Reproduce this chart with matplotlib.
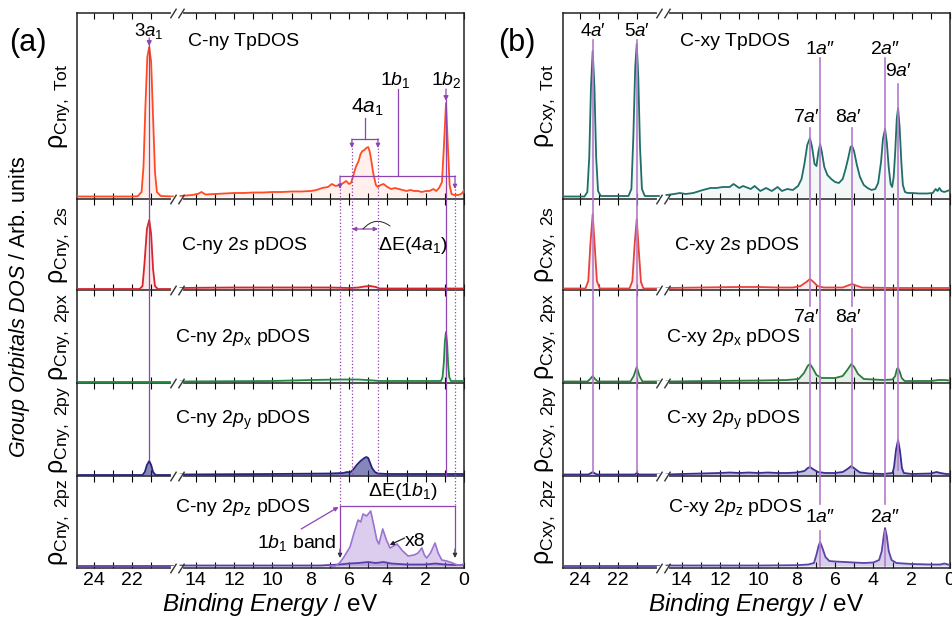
import numpy as np
import matplotlib
matplotlib.use('Agg')
import matplotlib.pyplot as plt
from matplotlib import transforms
from matplotlib.lines import Line2D
from matplotlib.patches import FancyArrowPatch

plt.rcParams['font.family'] = ['Liberation Sans', 'DejaVu Sans']
plt.rcParams['mathtext.fontset'] = 'custom'
plt.rcParams['mathtext.rm'] = 'Liberation Sans'
plt.rcParams['mathtext.it'] = 'Liberation Sans:italic'
plt.rcParams['mathtext.default'] = 'regular'

W, H = 952, 619
GAP = 4.67      # eV removed between the two axis segments
BRK = 15.0      # axis position of the break

major_E = [24, 22, 14, 12, 10, 8, 6, 4, 2, 0]
minor_E = [23, 21, 13, 11, 9, 7, 5, 3, 1]

# ---- C-ny (panel a), heights in arbitrary units ----
a_tot = [(24.93, 0.5), (22.0, 0.5), (21.7, 0.8), (21.5, 5), (21.4, 30), (21.3, 90), (21.2, 140), (21.1, 150),
         (21.0, 135), (20.9, 80), (20.8, 25), (20.7, 5), (20.5, 1), (19.86, 0.5),
         (14.8, 1), (14.5, 1.5), (14.2, 2), (13.9, 3), (13.7, 5), (13.5, 2.5), (13.0, 3), (12.5, 3.5), (12.0, 4),
         (11.5, 4), (11.0, 4.5), (10.5, 4.5), (10.0, 5), (9.5, 5), (9.0, 5.5), (8.5, 5.5), (8.0, 6), (7.7, 7),
         (7.4, 9), (7.1, 10), (6.9, 13), (6.7, 11), (6.5, 12), (6.3, 14), (6.15, 16), (6.0, 13), (5.9, 14),
         (5.8, 20), (5.65, 30), (5.5, 36), (5.4, 43), (5.3, 46), (5.2, 47), (5.1, 49), (5.0, 50), (4.93, 46),
         (4.85, 38), (4.75, 25), (4.6, 12), (4.5, 10), (4.35, 12), (4.2, 13), (4.0, 10), (3.8, 8), (3.6, 9),
         (3.4, 8), (3.2, 7), (3.0, 6), (2.8, 7), (2.6, 6), (2.4, 6), (2.2, 5), (2.0, 6), (1.8, 6), (1.6, 8),
         (1.45, 6), (1.3, 9), (1.15, 15), (1.05, 50), (0.94, 94), (0.84, 50), (0.75, 12), (0.65, 3), (0.5, 2),
         (0.3, 2), (0.15, 3), (0.05, 5), (0.0, 7)]
a_2s = [(24.93, 0), (21.6, 0), (21.45, 3), (21.35, 25), (21.22, 60), (21.1, 69), (21.0, 55), (20.9, 20),
        (20.8, 3), (20.65, 0), (19.86, 0),
        (14.8, 1), (14, 1.2), (12, 1.5), (10, 1.5), (8, 1.5), (7, 1.5), (6, 1), (5.5, 1.5), (5.2, 2.5),
        (4.9, 3), (4.6, 2), (4.4, 0.5), (2, 0.5), (0, 0.5)]
a_2px = [(24.93, 0.5), (19.86, 0.5), (14.8, 0.5), (10, 1), (8, 2), (6.5, 2.5), (5.5, 2.5), (4.7, 1.5),
         (4.4, 1), (2, 1), (1.2, 1), (1.12, 5), (1.05, 20), (1.0, 40), (0.94, 50), (0.88, 38), (0.83, 18),
         (0.77, 5), (0.68, 1), (0, 1)]
a_2py = [(24.93, 0), (21.45, 0), (21.33, 3), (21.22, 10), (21.1, 14), (21.0, 10), (20.9, 3), (20.77, 0),
         (19.86, 0),
         (14.8, 0.5), (10, 1), (7, 1.5), (6.3, 2), (6.1, 3), (5.95, 2.5), (5.8, 5), (5.6, 10), (5.4, 14),
         (5.2, 17), (5.1, 18), (5.0, 17), (4.9, 12), (4.8, 7), (4.65, 3), (4.5, 1.5), (4.0, 1), (2, 1), (0, 1)]
a_2pz = [(24.93, 0.5), (19.86, 0.5), (14.8, 0.5), (7.5, 0.5), (7, 1), (6.5, 1.5), (6, 2.5), (5.5, 3),
         (5.0, 4), (4.6, 3), (4.2, 4), (3.8, 2.5), (3.0, 1.5), (2.0, 1.5), (1.5, 2.5), (1.0, 1.5), (0.5, 1),
         (0, 1)]
a_2pz_x8 = [(7.0, 0), (6.73, 0), (6.5, 3), (6.3, 8), (5.95, 19), (5.74, 33), (5.53, 46), (5.39, 44),
            (5.27, 52), (5.08, 50), (4.87, 55), (4.7, 40), (4.55, 26), (4.44, 22), (4.24, 37), (4.05, 26),
            (3.86, 18), (3.68, 20), (3.5, 22), (3.2, 15), (2.92, 10), (2.6, 11), (2.4, 13), (2.2, 18),
            (2.07, 11), (1.95, 8), (1.75, 13), (1.51, 23), (1.35, 13), (1.16, 6), (0.9, 5), (0.6, 3),
            (0.35, 1), (0.1, 1), (0.0, 3)]

# ---- C-xy (panel b) ----
b_tot = [(24.9, 0.5), (23.75, 0.5), (23.6, 5), (23.5, 40), (23.41, 110), (23.32, 146), (23.23, 110),
         (23.14, 40), (23.04, 6), (22.9, 1), (21.45, 1), (21.3, 8), (21.2, 60), (21.1, 130), (21.02, 153),
         (20.94, 120), (20.85, 50), (20.75, 8), (20.6, 1), (19.86, 1),
         (14.8, 2), (14.4, 3), (14.1, 4), (13.8, 3), (13.4, 4), (12.9, 7), (12.5, 9), (12.2, 9), (11.85, 10),
         (11.5, 10), (11.3, 13), (11.0, 9), (10.8, 11), (10.4, 8), (10.2, 11), (9.9, 6), (9.6, 9), (9.3, 6),
         (9.0, 10), (8.77, 6), (8.5, 8), (8.2, 7), (7.93, 11), (7.75, 18), (7.6, 33), (7.45, 52), (7.31, 59),
         (7.2, 50), (7.07, 33), (6.97, 31), (6.87, 45), (6.78, 53), (6.69, 45), (6.56, 30), (6.4, 22),
         (6.2, 18), (6.0, 15), (5.8, 14), (5.6, 18), (5.45, 28), (5.3, 40), (5.19, 50), (5.11, 51),
         (5.01, 46), (4.86, 32), (4.7, 20), (4.5, 12), (4.3, 9), (4.1, 7), (3.9, 8), (3.75, 14), (3.6, 35),
         (3.5, 58), (3.39, 68), (3.3, 55), (3.2, 30), (3.1, 13), (3.02, 10), (2.94, 20), (2.86, 45),
         (2.78, 78), (2.71, 89), (2.63, 70), (2.54, 35), (2.46, 12), (2.35, 5), (2.2, 4), (2.0, 4),
         (1.6, 3.5), (1.2, 3.5), (0.9, 4), (0.75, 8), (0.65, 6), (0.55, 9), (0.45, 6), (0.3, 5), (0.15, 6),
         (0.0, 7)]
b_2s = [(24.9, 0.5), (23.7, 0.5), (23.55, 8), (23.44, 45), (23.32, 75), (23.22, 45), (23.1, 8), (22.95, 0.5),
        (21.4, 0.5), (21.25, 8), (21.13, 45), (21.02, 70), (20.92, 40), (20.8, 7), (20.67, 0.5), (19.86, 0.5),
        (14.8, 1), (13, 1.5), (11, 2), (10, 2), (9, 1.5), (8.2, 1.5), (7.8, 3), (7.5, 7), (7.31, 10),
        (7.12, 7), (6.92, 3), (6.6, 1.5), (5.6, 1.5), (5.33, 3.5), (5.11, 5), (4.9, 3.5), (4.6, 1.5), (3, 1),
        (0, 1)]
b_2px = [(24.9, 0.5), (23.6, 0.5), (23.45, 3), (23.32, 6), (23.2, 3), (23.05, 0.5), (21.35, 0.5), (21.18, 6),
         (21.02, 15), (20.88, 6), (20.72, 0.5), (19.86, 0.5),
         (14.8, 0.5), (10, 1.5), (8.5, 2), (7.9, 3), (7.62, 9), (7.43, 16), (7.31, 18), (7.17, 14), (6.97, 7),
         (6.7, 4), (6.0, 4), (5.6, 6), (5.36, 12), (5.15, 18), (5.0, 15), (4.8, 8), (4.5, 3), (3.5, 2),
         (3.0, 2.5), (2.86, 6), (2.77, 13), (2.71, 14), (2.62, 10), (2.52, 4), (2.37, 1), (1.0, 1), (0.6, 2),
         (0.3, 2), (0, 1.5)]
b_2py = [(24.9, 0.5), (23.55, 0.5), (23.4, 2), (23.32, 3), (23.24, 2), (23.1, 0.5), (21.13, 0.5), (21.02, 2),
         (20.9, 0.5), (19.86, 0.5),
         (14.8, 0.5), (14, 1), (13, 1.5), (12, 2), (11.5, 2.5), (11, 2), (10.5, 2.5), (10, 2), (9.5, 2.5),
         (9, 2), (8.5, 2), (8, 2.5), (7.6, 4), (7.42, 7), (7.31, 8), (7.16, 6), (6.9, 3), (6.5, 2), (6.0, 2),
         (5.6, 3), (5.35, 6), (5.15, 9), (4.95, 6), (4.7, 2.5), (4.2, 1.5), (3.5, 1), (3.0, 2), (2.92, 8),
         (2.82, 25), (2.71, 35), (2.61, 24), (2.51, 7), (2.41, 2), (2.0, 1), (1.0, 1.5), (0.7, 3), (0.5, 2),
         (0.2, 1), (0, 1)]
b_2pz = [(24.9, 0.5), (19.86, 0.5), (14.8, 0.5), (10, 0.5), (8, 0.8), (7.4, 1.5), (7.1, 3), (6.96, 12),
         (6.86, 20), (6.78, 24), (6.66, 18), (6.5, 9), (6.3, 5), (6.0, 4.5), (5.5, 4), (5.0, 3.5), (4.5, 3),
         (4.0, 3.5), (3.7, 6), (3.56, 15), (3.46, 30), (3.39, 38), (3.3, 30), (3.2, 15), (3.05, 6), (2.8, 3),
         (2.0, 2), (1.0, 1.5), (0.5, 1.5), (0.3, 2.5), (0.1, 1.5), (0, 1)]

# peak / band energies used by the annotations
pk_a = {'3a1': 21.1, '1b2': 0.94, '4a1': 5.17, '1b1': 3.47}
edges_4a1 = [5.85, 4.49]
edges_1b1 = [6.47, 0.47]
pk_b = {'4a': 23.32, '5a': 21.02, '7a': 7.31, '1a2': 6.78, '8a': 5.11, '2a2': 3.39, '9a': 2.71}

rho_a = [r'$ρ_{Cny,\ Tot}$', r'$ρ_{Cny,\ 2s}$', r'$ρ_{Cny,\ 2px}$', r'$ρ_{Cny,\ 2py}$', r'$ρ_{Cny,\ 2pz}$']
rho_b = [r'$ρ_{Cxy,\ Tot}$', r'$ρ_{Cxy,\ 2s}$', r'$ρ_{Cxy,\ 2px}$', r'$ρ_{Cxy,\ 2py}$', r'$ρ_{Cxy,\ 2pz}$']

col_a = ['#ff4a22', '#d8262c', '#1e8a3e', '#25237e', '#5b3ea6']
col_b = ['#1f6e68', '#e8423c', '#2a7d3c', '#3b2f92', '#5a43aa']
fill_a = [0.08, 0.1, 0.1, 0.55, 0.3]
fill_b = [0.05, 0.1, 0.12, 0.3, 0.25]
ann_a = '#8e44ad'
ann_b = '#b57acb'

ylims = [(-2, 184), (-1, 90), (-1, 92), (-1, 92), (-2, 90)]


def u(e):
    e = np.asarray(e, float)
    return np.where(e > 17, e - GAP, e)


fig = plt.figure(figsize=(W / 100, H / 100), dpi=100)


def fy(y):
    return 1 - y / H


def bt(ax):
    return transforms.blended_transform_factory(ax.transData, fig.transFigure)


def draw_curve(ax, pts, color, alpha, lw=1.3):
    e, v = np.array(pts, float).T
    for m in (e > 17, e <= 17):
        if m.sum() < 2:
            continue
        ax.plot(u(e[m]), v[m], color=color, lw=lw, zorder=3)
        ax.fill_between(u(e[m]), 0, v[m], color=color, alpha=alpha, lw=0, zorder=2)


def brk(ax, yax):
    tr = transforms.blended_transform_factory(ax.transData, ax.transAxes)
    ax.plot([BRK + 0.2, BRK - 0.25], [yax, yax], color='white', lw=3, transform=tr, clip_on=False, zorder=6)
    for xb in (BRK + 0.2, BRK - 0.25):
        ax.plot([xb], [yax], marker=[(-1, -1.6), (1, 1.6)], ms=7, mew=1, color='#333333',
                transform=tr, clip_on=False, zorder=7)


def column(left, curves, cols, fills, rhos):
    gs = fig.add_gridspec(5, 1, left=left / W, right=(left + 387) / W, bottom=fy(568), top=fy(13),
                          height_ratios=[186, 91, 93, 93, 92], hspace=0)
    axs = []
    for i in range(5):
        ax = fig.add_subplot(gs[i])
        ax.set_facecolor('none')
        draw_curve(ax, curves[i], cols[i], fills[i])
        ax.set_xlim(20.2, 0)
        ax.set_ylim(*ylims[i])
        ax.set_yticks([])
        ax.set_xticks(u(major_E))
        ax.set_xticks(u(minor_E), minor=True)
        ax.set_xticklabels([str(e) for e in major_E])
        ax.tick_params(which='both', direction='in', top=True, bottom=True, length=4, width=0.8,
                       labelbottom=(i == 4), labelsize=14, pad=3)
        for s in ax.spines.values():
            s.set_linewidth(1.1)
            s.set_color('#222222')
        if i > 0:
            ax.spines['top'].set_visible(False)
        ax.text(-0.045, 0.5, rhos[i], transform=ax.transAxes, rotation=90, ha='center', va='center',
                fontsize=18)
        brk(ax, 0)
        if i == 0:
            brk(ax, 1)
        axs.append(ax)
    axs[4].set_xlabel(r'$\mathit{Binding\ Energy}$ / eV', fontsize=17.5, labelpad=1)
    return axs


A = column(77, [a_tot, a_2s, a_2px, a_2py, a_2pz], col_a, fill_a, rho_a)
draw_curve(A[4], a_2pz_x8, '#9b72d0', 0.35, lw=1.2)
B = column(563, [b_tot, b_2s, b_2px, b_2py, b_2pz], col_b, fill_b, rho_b)


def vseg(ax, e, y0, y1, color, ls='-', lw=0.9):
    fig.add_artist(Line2D(u([e, e]), [fy(y0), fy(y1)], transform=bt(ax), color=color, ls=ls, lw=lw))


def hseg(ax, e0, e1, y, color, lw=0.9):
    fig.add_artist(Line2D(u([e0, e1]), [fy(y), fy(y)], transform=bt(ax), color=color, lw=lw))


def arrow(ax, e0, y0, e1, y1, color, style='-|>', ms=7, lw=0.9):
    fig.add_artist(FancyArrowPatch((float(u(e0)), fy(y0)), (float(u(e1)), fy(y1)), transform=bt(ax),
                                   arrowstyle=style, mutation_scale=ms, color=color, lw=lw,
                                   shrinkA=0, shrinkB=0))


def label(ax, e, y, s, size=13.5, **kw):
    fig.text(float(u(e)), fy(y), s, transform=bt(ax), ha='center', va='center', fontsize=size, **kw)


# ---------------- panel (a) annotations ----------------
ax = A[0]
fig.text(28 / W, fy(43), '(a)', fontsize=22, ha='center', va='center')
fig.text(244 / W, fy(42), 'C-ny TpDOS', fontsize=14, ha='center', va='center')
label(ax, pk_a['3a1'], 31, r'3$\mathit{a}_{\mathit{1}}$')
vseg(ax, pk_a['3a1'], 45, 460, ann_a)
arrow(ax, pk_a['3a1'], 38, pk_a['3a1'], 46, ann_a)
label(ax, pk_a['1b2'], 80, r'1$\mathit{b}_{\mathit{2}}$', size=14)
vseg(ax, pk_a['1b2'], 100, 476, ann_a)
arrow(ax, pk_a['1b2'], 89, pk_a['1b2'], 101, ann_a)
label(ax, pk_a['1b1'] + 0.1, 80, r'1$\mathit{b}_{\mathit{1}}$', size=14)
vseg(ax, pk_a['1b1'], 89, 176, ann_a)
hseg(ax, edges_1b1[0], edges_1b1[1], 176, ann_a)
label(ax, pk_a['4a1'] - 0.1, 107, r'4$\mathit{a}_{\mathit{1}}$', size=15)
vseg(ax, pk_a['4a1'], 118, 139, ann_a)
hseg(ax, edges_4a1[0], edges_4a1[1], 139, ann_a)
for e in edges_4a1:
    arrow(ax, e, 139, e, 148, ann_a, ms=6)
    vseg(ax, e, 148, 476, ann_a, ls=':', lw=0.9)
for e in edges_1b1:
    arrow(ax, e, 176, e, 189, ann_a, ms=6)
    vseg(ax, e, 189, 506, ann_a, ls=':', lw=0.9)

fig.text(244 / W, fy(245), r'C-ny 2$\mathit{s}$ pDOS', fontsize=14, ha='center', va='center')
arrow(ax, edges_4a1[0], 229, edges_4a1[1], 229, ann_a, style='<|-|>', ms=6)
fig.add_artist(FancyArrowPatch((float(u(5.27)), fy(229)), (float(u(3.86)), fy(226)), transform=bt(ax),
                               arrowstyle='-', connectionstyle='arc3,rad=-0.45', color='#222222', lw=0.7,
                               shrinkA=0, shrinkB=0))
fig.text(413 / W, fy(246), r'ΔE(4$\mathit{a}_{\mathit{1}}$)', fontsize=14, ha='center', va='center')
fig.text(243 / W, fy(337), r'C-ny 2$\mathit{p}_{x}$ pDOS', fontsize=14, ha='center', va='center')
fig.text(243 / W, fy(420), r'C-ny 2$\mathit{p}_{y}$ pDOS', fontsize=14, ha='center', va='center')
fig.text(243 / W, fy(508), r'C-ny 2$\mathit{p}_{z}$ pDOS', fontsize=14, ha='center', va='center')
hseg(ax, edges_1b1[0], edges_1b1[1], 506, ann_a)
for e in edges_1b1:
    vseg(ax, e, 506, 552, ann_a)
    arrow(ax, e, 549, e, 558, '#333333', ms=6)
fig.text(403 / W, fy(491), r'ΔE(1$\mathit{b}_{\mathit{1}}$)', fontsize=14, ha='center', va='center')
fig.text(297 / W, fy(543), r'1$\mathit{b}_{\mathit{1}}$ band', fontsize=14, ha='center', va='center')
arrow(ax, 8.5, 529, 6.55, 507, ann_a, ms=6)
fig.text(415 / W, fy(541), 'x8', fontsize=14, ha='center', va='center')
arrow(ax, 3.1, 538, 3.88, 545, '#222222', ms=6)

# ---------------- panel (b) annotations ----------------
ax = B[0]
fig.text(517 / W, fy(43), '(b)', fontsize=22, ha='center', va='center')
fig.text(735 / W, fy(42), 'C-xy TpDOS', fontsize=14, ha='center', va='center')
label(ax, pk_b['4a'], 31, r'4$\mathit{a}$′')
label(ax, pk_b['5a'], 31, r'5$\mathit{a}$′')
vseg(ax, pk_b['4a'], 40, 472, ann_b, lw=1.2)
vseg(ax, pk_b['5a'], 40, 472, ann_b, lw=1.2)
label(ax, pk_b['1a2'], 50, r'1$\mathit{a}$″', size=14)
label(ax, pk_b['2a2'], 50, r'2$\mathit{a}$″', size=14)
for k in ('1a2', '2a2'):
    vseg(ax, pk_b[k], 58, 504, ann_b, lw=1.2)
    vseg(ax, pk_b[k], 531, 566, ann_b, lw=1.2)
    label(ax, pk_b[k], 518, r'%s$\mathit{a}$″' % k[0], size=14)
label(ax, pk_b['9a'], 72, r'9$\mathit{a}$′', size=14)
vseg(ax, pk_b['9a'], 84, 470, ann_b, lw=1.2)
for k in ('7a', '8a'):
    label(ax, pk_b[k] + 0.2, 118, r'%s$\mathit{a}$′' % k[0], size=14)
    label(ax, pk_b[k] + 0.2, 317, r'%s$\mathit{a}$′' % k[0], size=14)
    vseg(ax, pk_b[k], 128, 306, ann_b, lw=1.2)
    vseg(ax, pk_b[k], 329, 468, ann_b, lw=1.2)
fig.text(737 / W, fy(245), r'C-xy 2$\mathit{s}$ pDOS', fontsize=14, ha='center', va='center')
fig.text(733 / W, fy(337), r'C-xy 2$\mathit{p}_{x}$ pDOS', fontsize=14, ha='center', va='center')
fig.text(733 / W, fy(420), r'C-xy 2$\mathit{p}_{y}$ pDOS', fontsize=14, ha='center', va='center')
fig.text(735 / W, fy(508), r'C-xy 2$\mathit{p}_{z}$ pDOS', fontsize=14, ha='center', va='center')

fig.text(20 / W, fy(307), r'$\mathit{Group\ Orbitals\ DOS}$ / Arb. units', fontsize=15.5,
         rotation=90, ha='center', va='center')

fig.savefig('out.png', dpi=100)
